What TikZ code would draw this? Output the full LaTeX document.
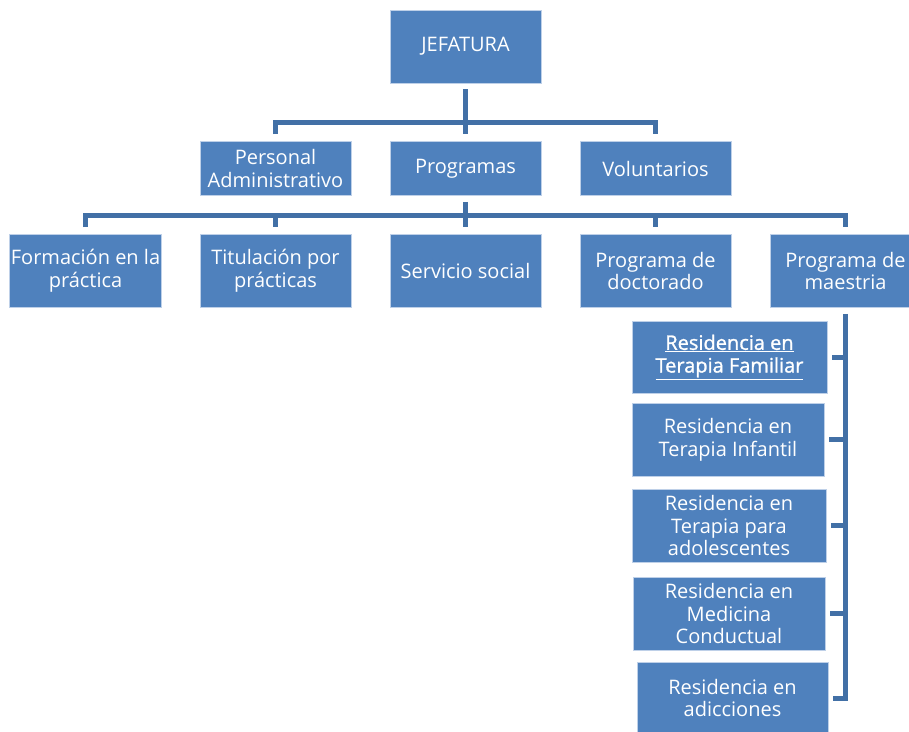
\documentclass[tikz,border=0pt]{standalone}
\usepackage{fontspec}
\setmainfont{Open Sans}
\newfontfamily\linkfont[FakeBold=1.2]{Open Sans}
\definecolor{boxblue}{RGB}{79,129,189}
\definecolor{edgeblue}{RGB}{190,208,232}
\definecolor{linkblue}{RGB}{66,112,166}
\tikzset{
  unit/.style={draw=edgeblue, line width=0.8pt, fill=boxblue, text=white,
    align=center, inner sep=1pt, font=\fontsize{20}{22.7}\selectfont},
  wide/.style={unit, minimum width=151pt, minimum height=73pt},
  mid/.style={unit, minimum width=151pt, minimum height=54pt},
  res/.style={unit, minimum width=193pt, minimum height=73pt},
  linked/.style={font=\linkfont\fontsize{20}{22.7}\selectfont},
  conn/.style={draw=linkblue, line width=5pt}
}
\begin{document}
\begin{tikzpicture}[x=1pt,y=-1pt]
\useasboundingbox[fill=white] (0,0) rectangle (909,731);

% top level
\node[wide] (jef) at (465.5,46.5) {JEFATURA};

% second level
\node[mid] (pers) at (275.5,168.5) {Personal\\Administrativo};
\node[mid] (prog) at (465.5,168.5) {Programas};
\node[mid] (vol)  at (655.5,168.5) {Voluntarios};

% third level
\node[wide] (form) at (85.5,271)  {Formación en la\\práctica};
\node[wide] (tit)  at (275.5,271) {Titulación por\\prácticas};
\node[wide] (serv) at (465.5,271) {Servicio social};
\node[wide] (doc)  at (655.5,271) {Programa de\\doctorado};
\node[wide] (mae)  at (845.5,271) {Programa de\\maestria};

% residencies
\node[res, linked, minimum width=195pt, minimum height=72pt] (fam) at (729.5,357)
  {\underline{Residencia en}\\\underline{Terapia Familiar}};
\node[res, minimum width=192pt] (inf) at (728,439.5) {Residencia en\\Terapia Infantil};
\node[res, minimum width=194pt] (ado) at (729,525.5) {Residencia en\\Terapia para\\adolescentes};
\node[res, minimum width=192pt] (med) at (729,613.5) {Residencia en\\Medicina\\Conductual};
\node[res, minimum width=191pt, minimum height=72pt] (adi) at (732.5,698) {Residencia en\\adicciones};

% bus levels
\coordinate (busA) at (0,122);
\coordinate (busB) at (0,215);

% JEFATURA to second level
\draw[conn] ([yshift=-6pt]jef.south) -- (jef.south |- busA);
\draw[conn] ([yshift=7pt]pers.north) -- (pers.north |- busA)
  -- (vol.north |- busA) -- ([yshift=7pt]vol.north);
\draw[conn] (prog.north |- busA) -- ([yshift=7pt]prog.north);

% Programas to third level
\draw[conn] ([yshift=-6pt]prog.south) -- (prog.south |- busB);
\draw[conn] ([yshift=7pt]form.north) -- (form.north |- busB)
  -- (mae.north |- busB) -- ([yshift=7pt]mae.north);
\draw[conn] (tit.north |- busB) -- ([yshift=7pt]tit.north);
\draw[conn] (serv.north |- busB) -- ([yshift=7pt]serv.north);
\draw[conn] (doc.north |- busB) -- ([yshift=7pt]doc.north);

% maestria to residencies
\draw[conn] ([yshift=-6pt]mae.south) -- (mae.south |- adi.east) -- ([xshift=5pt]adi.east);
\foreach \r in {fam,inf,ado,med}
  \draw[conn] ([xshift=5pt]\r.east) -- (mae.south |- \r.east);
\end{tikzpicture}
\end{document}
